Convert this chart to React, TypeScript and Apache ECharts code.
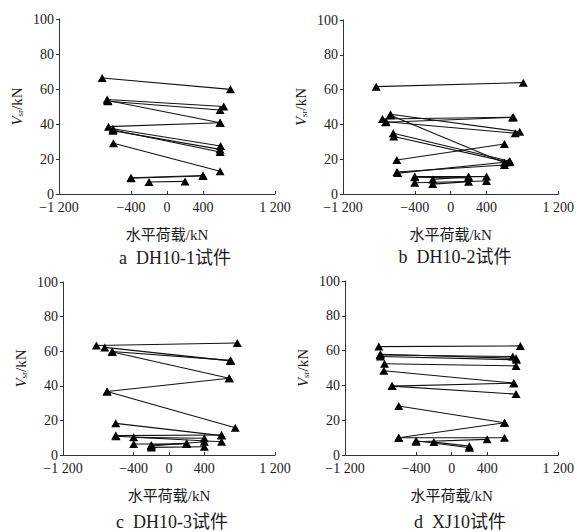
import React, { useEffect, useRef } from "react";
import * as echarts from "echarts";

// Each segment joins the negative and positive peak of one loading cycle:
// [negative load kN, Vsr kN, positive load kN, Vsr kN]
type Seg = [number, number, number, number];

const xTicks = [-1200, -400, 0, 400, 1200];
const yMin = 0;
const yMax = 100;
const yStep = 20;

const panelTitles = ["a  DH10-1试件", "b  DH10-2试件", "c  DH10-3试件", "d  XJ10试件"];
const xName = "水平荷载/kN";

const dh101: Seg[] = [
  [-720, 66.3, 705, 59.8],
  [-665, 54, 630, 50],
  [-655, 53, 590, 48],
  [-660, 53.4, 590, 40.7],
  [-650, 38.5, 590, 40.7],
  [-600, 37.3, 595, 27.4],
  [-600, 36.2, 590, 25.5],
  [-600, 36.6, 590, 24],
  [-595, 29, 590, 13],
  [-400, 9, 400, 10.3],
  [-400, 9.3, 400, 10.6],
  [-200, 6.9, 200, 7.2],
];

const dh102: Seg[] = [
  [-830, 61.7, 810, 64],
  [-670, 45.8, 770, 35.8],
  [-670, 45.3, 600, 18],
  [-760, 43.1, 700, 44.1],
  [-725, 41.2, 690, 44],
  [-720, 41.5, 720, 34.9],
  [-640, 34.9, 660, 18.8],
  [-635, 33, 645, 18.3],
  [-600, 19.5, 600, 28.7],
  [-598, 12.6, 600, 16.7],
  [-590, 12, 660, 18.5],
  [-400, 10, 400, 10],
  [-400, 6.5, 400, 7.5],
  [-200, 8.4, 200, 10],
  [-200, 5.7, 200, 7.1],
  [-400, 9.6, 200, 9.2],
];

const dh103: Seg[] = [
  [-822, 63.3, 773, 64.7],
  [-728, 62.2, 697, 54.4],
  [-644, 59.8, 697, 54.7],
  [-640, 59.5, 682, 44.4],
  [-701, 36.7, 682, 44.4],
  [-701, 36.7, 750, 15.8],
  [-603, 18.3, 595, 11.2],
  [-603, 11.2, 595, 11.6],
  [-600, 10.8, 595, 7.7],
  [-400, 10.2, 400, 9.7],
  [-400, 6.4, 200, 6.4],
  [-200, 5.8, 200, 6.8],
  [-200, 4.4, 400, 4.8],
  [-200, 5.2, 400, 7.7],
];

const xj10: Seg[] = [
  [-819, 62.3, 774, 62.7],
  [-805, 57.5, 688, 56.6],
  [-800, 57.9, 725, 55.6],
  [-802, 56.6, 730, 54.7],
  [-755, 52.4, 725, 51.2],
  [-763, 48.4, 700, 41.3],
  [-670, 39.6, 700, 41.3],
  [-670, 39.6, 725, 35],
  [-595, 28.2, 595, 18.5],
  [-595, 9.9, 595, 18.5],
  [-595, 9.9, 595, 9.9],
  [-400, 7.6, 400, 9],
  [-200, 7.4, 200, 5.1],
  [-400, 8.2, 200, 4.2],
];

const panels = [dh101, dh102, dh103, xj10];

// plot-area rectangles (px) and caption centres for the four panels
const grids = [
  { left: 59, top: 19, width: 216, height: 175 },
  { left: 343, top: 20, width: 217, height: 174 },
  { left: 63, top: 282, width: 212, height: 173 },
  { left: 345, top: 281, width: 215, height: 174 },
];
const captionPos = [
  [175, 258],
  [455, 257],
  [172, 522],
  [460, 522],
];

const FONT = "'Liberation Serif', 'Times New Roman', 'Noto Sans CJK SC', serif";
const TEXT = "#1a1a1a";
const AXIS = "#333";

function fmtLoad(v: number): string {
  const a = Math.abs(v);
  const s = a >= 1000 ? `${Math.floor(a / 1000)} ${String(a % 1000).padStart(3, "0")}` : String(a);
  return v < 0 ? "\u2212" + s : s;
}

export default function App() {
  const ref = useRef<HTMLDivElement>(null);

  useEffect(() => {
    if (!ref.current) return;
    const chart = echarts.init(ref.current, undefined, { renderer: "svg" });

    const xAxis = grids.map((_, i) => ({
      type: "value",
      gridIndex: i,
      min: -1200,
      max: 1200,
      interval: 400,
      name: xName,
      nameLocation: "middle",
      nameGap: 33,
      nameTextStyle: { fontFamily: FONT, fontSize: 15, color: TEXT },
      axisLine: { show: true, onZero: false, lineStyle: { color: AXIS, width: 1 } },
      axisTick: { show: true, inside: true, length: 3, customValues: xTicks, lineStyle: { color: AXIS } },
      axisLabel: {
        customValues: xTicks,
        margin: 7,
        fontFamily: FONT,
        fontSize: 14,
        lineHeight: 13,
        color: TEXT,
        showMinLabel: true,
        showMaxLabel: true,
        hideOverlap: false,
        formatter: (v: number) => fmtLoad(v),
      },
      splitLine: { show: false },
    }));

    const yAxis = grids.map((_, i) => ({
      type: "value",
      gridIndex: i,
      min: yMin,
      max: yMax,
      interval: yStep,
      name: "{i|V}{s|sr}{n|/kN}",
      nameLocation: "middle",
      nameRotate: 90,
      nameGap: 35,
      nameTextStyle: {
        fontFamily: FONT,
        color: TEXT,
        rich: {
          i: { fontFamily: FONT, fontSize: 15, fontStyle: "italic", color: TEXT },
          s: { fontFamily: FONT, fontSize: 9, color: TEXT, verticalAlign: "bottom", padding: [6, 0, 0, 0] },
          n: { fontFamily: FONT, fontSize: 15, color: TEXT },
        },
      },
      axisLine: { show: true, onZero: false, lineStyle: { color: AXIS, width: 1 } },
      axisTick: { show: true, inside: false, length: 3, lineStyle: { color: AXIS } },
      axisLabel: { margin: 5, fontFamily: FONT, fontSize: 14, lineHeight: 12, color: TEXT },
      splitLine: { show: false },
    }));

    const series: any[] = [];
    panels.forEach((segs, i) => {
      segs.forEach((s) => {
        series.push({
          type: "line",
          xAxisIndex: i,
          yAxisIndex: i,
          data: [
            [s[0], s[1]],
            [s[2], s[3]],
          ],
          symbol: "triangle",
          symbolSize: [9, 8],
          showSymbol: true,
          itemStyle: { color: "#000" },
          lineStyle: { color: "#111", width: 1.1 },
          silent: true,
        });
      });
    });

    chart.setOption({
      animation: false,
      backgroundColor: "#fff",
      grid: grids.map((g) => ({ ...g, containLabel: false })),
      xAxis,
      yAxis,
      series,
      graphic: panelTitles.map((t, i) => ({
        type: "text",
        x: captionPos[i][0],
        y: captionPos[i][1],
        style: {
          text: t,
          fontFamily: FONT,
          fontSize: 18,
          fill: TEXT,
          align: "center",
          verticalAlign: "middle",
        },
      })),
    });

    return () => chart.dispose();
  }, []);

  return (
    <div
      ref={ref}
      style={{ position: "absolute", left: 0, top: 0, width: 577, height: 532 }}
    />
  );
}
